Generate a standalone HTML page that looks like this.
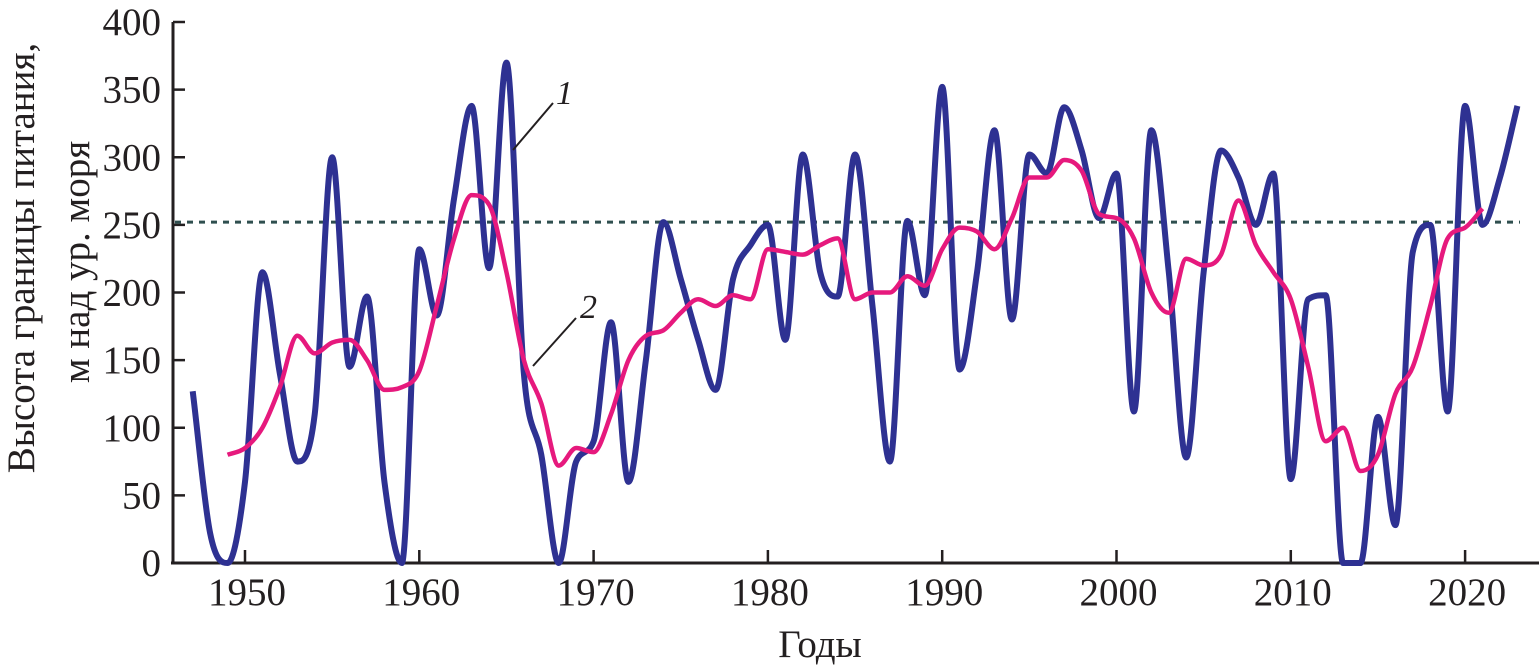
<!DOCTYPE html>
<html><head><meta charset="utf-8"><style>
html,body{margin:0;padding:0;background:#fff;}
svg{display:block;}
text{font-family:"Liberation Serif",serif;fill:#231f20;}
</style></head><body>
<svg id="chart" width="1539" height="670" viewBox="0 0 1539 670" xmlns="http://www.w3.org/2000/svg">
<g id="axes"></g>
<g id="series"></g>
<text transform="translate(34,258) rotate(-90)" text-anchor="middle" font-size="39">Высота границы питания,</text>
<text transform="translate(89,262) rotate(-90)" text-anchor="middle" font-size="39">м над ур. моря</text>
<text x="820" y="657" text-anchor="middle" font-size="39">Годы</text>
<line x1="513" y1="150" x2="553" y2="103" stroke="#231f20" stroke-width="2"/>
<text x="556" y="104" font-size="34" font-style="italic">1</text>
<line x1="533" y1="366" x2="576" y2="318" stroke="#231f20" stroke-width="2"/>
<text x="580" y="318" font-size="34" font-style="italic">2</text>
</svg>
<script>
const blueYears = [1947,1948,1949,1950,1951,1952,1953,1954,1955,1956,1957,1958,1959,1960,1961,1962,1963,1964,1965,1966,1967,1968,1969,1970,1971,1972,1973,1974,1975,1976,1977,1978,1979,1980,1981,1982,1983,1984,1985,1986,1987,1988,1989,1990,1991,1992,1993,1994,1995,1996,1997,1998,1999,2000,2001,2002,2003,2004,2005,2006,2007,2008,2009,2010,2011,2012,2013,2014,2015,2016,2017,2018,2019,2020,2021,2022,2023];
const blueValues = [127,22,0,60,215,140,75,110,300,145,197,60,0,232,183,270,338,218,370,140,80,0,75,90,178,60,150,252,210,165,128,210,235,250,165,302,215,197,302,190,75,253,198,352,143,215,320,180,302,288,337,305,255,288,112,320,215,78,215,305,285,250,288,62,195,198,0,0,108,28,230,250,112,338,250,285,338];
const pinkYears = [1949,1950,1951,1952,1953,1954,1955,1956,1957,1958,1959,1960,1961,1962,1963,1964,1965,1966,1967,1968,1969,1970,1971,1972,1973,1974,1975,1976,1977,1978,1979,1980,1981,1982,1983,1984,1985,1986,1987,1988,1989,1990,1991,1992,1993,1994,1995,1996,1997,1998,1999,2000,2001,2002,2003,2004,2005,2006,2007,2008,2009,2010,2011,2012,2013,2014,2015,2016,2017,2018,2019,2020,2021];
const pinkValues = [80,85,100,130,168,155,163,165,150,128,130,142,190,240,272,265,215,150,118,72,85,82,110,150,168,172,185,195,190,198,195,232,230,228,235,240,195,200,200,212,205,232,248,245,232,255,285,285,298,290,258,255,240,200,185,225,220,228,268,235,215,195,145,90,100,68,80,125,145,190,240,248,262];
const yTicks = [0,50,100,150,200,250,300,350,400];
const xTicks = [1950,1960,1970,1980,1990,2000,2010,2020];
const meanLevel = 252;

const NS='http://www.w3.org/2000/svg';
function X(yr){return 245+(yr-1950)*17.43;}
function Y(v){return 563-v*1.3525;}
function mk(tag,attrs,parent){const e=document.createElementNS(NS,tag);for(const k in attrs)e.setAttribute(k,attrs[k]);parent.appendChild(e);return e;}
const axes=document.getElementById('axes');
const series=document.getElementById('series');

let l=mk('line',{x1:173,y1:Y(400),x2:173,y2:564,stroke:'#231f20','stroke-width':3},axes);


l=mk('line',{x1:171,y1:563,x2:1539,y2:563,stroke:'#231f20','stroke-width':3},axes);


yTicks.forEach(v=>{
  const t=mk('line',{x1:173,y1:Y(v),x2:185,y2:Y(v),stroke:'#231f20','stroke-width':2.5},axes);
  
  
  const tx=mk('text',{x:161,y:Y(v)+13,'text-anchor':'end','font-size':39},axes);
  tx.textContent=v;
  
  
});
xTicks.forEach(yr=>{
  const t=mk('line',{x1:X(yr),y1:563,x2:X(yr),y2:550,stroke:'#231f20','stroke-width':2.5},axes);
  
  
  const tx=mk('text',{x:X(yr)+2,y:605,'text-anchor':'middle','font-size':39},axes);
  tx.textContent=yr;
  
  
});
const ml=mk('line',{x1:175,y1:Y(meanLevel),x2:1520,y2:Y(meanLevel),stroke:'#2f4f4f','stroke-width':3,'stroke-dasharray':'6 6'},series);



function smooth(xs,vs){
  const p=xs.map((x,i)=>[X(x),Y(vs[i])]);
  const n=p.length, d=[], m=new Array(n);
  for(let i=0;i<n-1;i++) d.push((p[i+1][1]-p[i][1])/(p[i+1][0]-p[i][0]));
  m[0]=d[0]; m[n-1]=d[n-2];
  for(let i=1;i<n-1;i++){ m[i]=(d[i-1]*d[i]<=0)?0:(d[i-1]+d[i])/2; }
  for(let i=0;i<n-1;i++){
    if(d[i]===0){m[i]=0;m[i+1]=0;continue;}
    const a=m[i]/d[i], b=m[i+1]/d[i], s=a*a+b*b;
    if(s>9){const t=3/Math.sqrt(s);m[i]=t*a*d[i];m[i+1]=t*b*d[i];}
  }
  let path='M'+p[0][0]+','+p[0][1];
  for(let i=0;i<n-1;i++){
    const h=(p[i+1][0]-p[i][0])/3;
    path+=` C${p[i][0]+h},${p[i][1]+m[i]*h} ${p[i+1][0]-h},${p[i+1][1]-m[i+1]*h} ${p[i+1][0]},${p[i+1][1]}`;
  }
  return path;
}
const b=mk('path',{d:smooth(blueYears,blueValues),fill:'none',stroke:'#2e3192','stroke-width':6,'stroke-linejoin':'round'},series);


const pk=mk('path',{d:smooth(pinkYears,pinkValues),fill:'none',stroke:'#e6197d','stroke-width':4.5,'stroke-linejoin':'round'},series);


</script>
</body></html>
